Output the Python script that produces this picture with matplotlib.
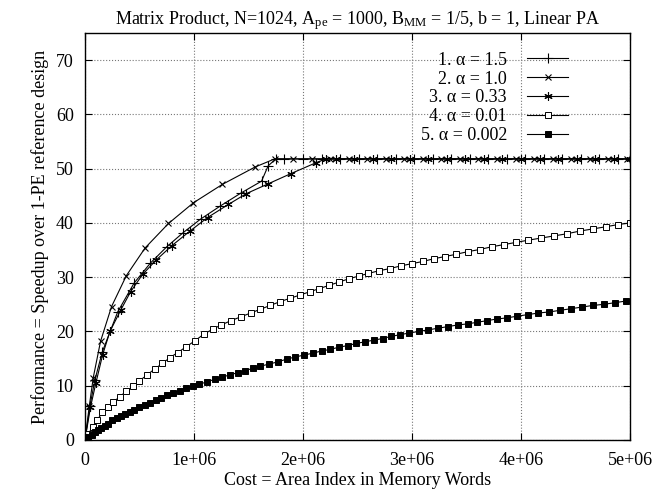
import matplotlib
matplotlib.use("Agg")
import matplotlib.pyplot as plt
import numpy as np

plt.rcParams["font.family"] = ["Liberation Serif", "DejaVu Serif"]
plt.rcParams["mathtext.fontset"] = "custom"
plt.rcParams["mathtext.rm"] = "Liberation Serif"
plt.rcParams["mathtext.it"] = "Liberation Serif:italic"

# x values in millions of memory words, y = speedup
labels = ["1. α = 1.5", "2. α = 1.0", "3. α = 0.33", "4. α = 0.01", "5. α = 0.002"]

x1 = [0, 0.045, 0.09, 0.16, 0.30, 0.45, 0.60, 0.75, 0.90, 1.06, 1.24, 1.43, 1.62, 1.68, 1.75,
      1.83, 2.00, 2.17, 2.34, 2.51, 2.68, 2.85, 3.02, 3.19, 3.36, 3.53, 3.70, 3.87, 4.04,
      4.21, 4.38, 4.55, 4.72, 4.89, 5.00]
y1 = [0, 6.2, 11.0, 16.3, 23.6, 28.9, 32.6, 35.6, 38.2, 40.7, 43.1, 45.5, 47.7, 50.5, 51.8,
      51.8, 51.8, 51.8, 51.8, 51.8, 51.8, 51.8, 51.8, 51.8, 51.8, 51.8, 51.8, 51.8, 51.8,
      51.8, 51.8, 51.8, 51.8, 51.8, 51.8]

x2 = [0, 0.04, 0.076, 0.143, 0.244, 0.38, 0.552, 0.766, 0.994, 1.26, 1.56, 1.74,
      1.91, 2.08, 2.25, 2.42, 2.59, 2.76, 2.93, 3.10, 3.27, 3.44, 3.61, 3.78, 3.95,
      4.12, 4.29, 4.46, 4.63, 4.80, 4.97]
y2 = [0, 6.3, 11.5, 18.2, 24.6, 30.3, 35.4, 39.9, 43.7, 47.1, 50.3, 51.8,
      51.8, 51.8, 51.8, 51.8, 51.8, 51.8, 51.8, 51.8, 51.8, 51.8, 51.8, 51.8, 51.8,
      51.8, 51.8, 51.8, 51.8, 51.8, 51.8]

x3 = [0, 0.05, 0.10, 0.162, 0.229, 0.327, 0.418, 0.528, 0.65, 0.796, 0.963, 1.125, 1.315,
      1.48, 1.68, 1.89, 2.12, 2.21, 2.30, 2.47, 2.64, 2.81, 2.98, 3.15, 3.32, 3.49, 3.66,
      3.83, 4.00, 4.17, 4.34, 4.51, 4.68, 4.85, 5.00]
y3 = [0, 6.0, 10.5, 15.7, 20.0, 23.9, 27.3, 30.5, 33.1, 35.8, 38.5, 41.0, 43.4,
      45.4, 47.2, 49.1, 51.1, 51.8, 51.8, 51.8, 51.8, 51.8, 51.8, 51.8, 51.8, 51.8, 51.8,
      51.8, 51.8, 51.8, 51.8, 51.8, 51.8, 51.8, 51.8]

x4 = [0, 0.03, 0.07, 0.11, 0.16, 0.21, 0.26, 0.32, 0.38, 0.44, 0.50, 0.57, 0.64, 0.71,
      0.78, 0.85, 0.93, 1.01, 1.09, 1.17, 1.25, 1.34, 1.43, 1.52, 1.61, 1.70, 1.79, 1.88,
      1.97, 2.06, 2.15, 2.24, 2.33, 2.42, 2.51, 2.60, 2.70, 2.80, 2.90, 3.00, 3.10, 3.20,
      3.30, 3.40, 3.51, 3.62, 3.73, 3.84, 3.95, 4.06, 4.18, 4.30, 4.42, 4.54, 4.66, 4.78,
      4.89, 5.00]
y4 = [0, 1.1, 2.4, 3.6, 5.1, 6.1, 7.0, 8.0, 9.0, 9.9, 10.9, 12.0, 13.1, 14.1,
      15.2, 16.1, 17.2, 18.3, 19.5, 20.4, 21.2, 22.0, 22.7, 23.4, 24.1, 24.8, 25.5, 26.1,
      26.7, 27.3, 27.9, 28.5, 29.1, 29.7, 30.2, 30.7, 31.2, 31.6, 32.1, 32.5, 32.9, 33.4,
      33.8, 34.2, 34.7, 35.1, 35.6, 36.0, 36.4, 36.8, 37.2, 37.6, 38.0, 38.5, 38.9, 39.3,
      39.7, 40.0]

x5 = [0, 0.03, 0.06, 0.09, 0.12, 0.15, 0.18, 0.21, 0.25, 0.29, 0.33, 0.37, 0.41, 0.45,
      0.50, 0.55, 0.60, 0.65, 0.70, 0.75, 0.81, 0.87, 0.93, 0.99, 1.05, 1.12, 1.19, 1.26,
      1.33, 1.40, 1.47, 1.54, 1.61, 1.69, 1.77, 1.85, 1.93, 2.01, 2.09, 2.17, 2.25, 2.33,
      2.41, 2.49, 2.57, 2.65, 2.73, 2.81, 2.89, 2.97, 3.06, 3.15, 3.24, 3.33, 3.42, 3.51,
      3.60, 3.69, 3.78, 3.87, 3.96, 4.06, 4.16, 4.26, 4.36, 4.46, 4.56, 4.66, 4.76, 4.86,
      4.96]
y5 = [0, 0.5, 0.95, 1.4, 1.8, 2.2, 2.6, 3.0, 3.6, 4.0, 4.4, 4.8, 5.2, 5.6,
      6.0, 6.5, 6.9, 7.4, 7.8, 8.2, 8.7, 9.1, 9.5, 9.95, 10.3, 10.7, 11.2, 11.6,
      12.0, 12.4, 12.8, 13.2, 13.6, 14.0, 14.4, 14.9, 15.3, 15.65, 16.0, 16.4, 16.7, 17.1,
      17.4, 17.8, 18.1, 18.4, 18.7, 19.1, 19.4, 19.7, 20.0, 20.3, 20.6, 20.9, 21.2, 21.4,
      21.7, 22.0, 22.3, 22.5, 22.8, 23.1, 23.4, 23.6, 23.9, 24.2, 24.5, 24.8, 25.0, 25.3,
      25.6]

xticks = [0, 1e6, 2e6, 3e6, 4e6, 5e6]
xtick_labels = ["0", "1e+06", "2e+06", "3e+06", "4e+06", "5e+06"]
yticks = [0, 10, 20, 30, 40, 50, 60, 70]

fig = plt.figure(figsize=(6.67, 4.92), dpi=100)
ax = fig.add_axes([0.1274, 0.1057, 0.8171, 0.8272])

styles = [
    dict(marker="+", markersize=7, mew=0.8),
    dict(marker="x", markersize=5, mew=0.8),
    dict(marker=(6, 2, 0), markersize=6, mew=0.8),
    dict(marker="s", markersize=4.5, mew=0.7, mfc="white"),
    dict(marker="s", markersize=5, mew=0.7, mfc="black"),
]
series = [(x1, y1), (x2, y2), (x3, y3), (x4, y4), (x5, y5)]
for (xs, ys), lab, st in zip(series, labels, styles):
    ax.plot(np.array(xs) * 1e6, ys, color="black", lw=0.8, mec="black",
            label=lab, **st)

ax.set_xlim(0, 5e6)
ax.set_ylim(0, 75)
ax.set_xticks(xticks)
ax.set_xticklabels(xtick_labels)
ax.set_yticks(yticks)
ax.tick_params(direction="in", top=True, right=True, length=5, width=0.8,
               labelsize=13)
ax.tick_params(axis="x", pad=9)
ax.tick_params(axis="y", pad=8)
ax.grid(True, linestyle=":", color="#777777", linewidth=0.8)
for s in ax.spines.values():
    s.set_linewidth(1.0)

ax.set_title("Matrix Product, N=1024, A$_{\\mathrm{pe}}$ = 1000, B$_{\\mathrm{MM}}$ = 1/5, "
             "b = 1, Linear PA", fontsize=13, pad=6)
ax.set_xlabel("Cost = Area Index in Memory Words", fontsize=13, labelpad=2)
ax.set_ylabel("Performance = Speedup over 1-PE reference design", fontsize=13,
              labelpad=5)

ax.legend(loc="upper right", bbox_to_anchor=(0.91, 0.985), frameon=False,
          markerfirst=False, fontsize=13, handlelength=2.3, labelspacing=0.1,
          handletextpad=1.1, borderpad=0.2)

fig.savefig("out.png", dpi=100)
